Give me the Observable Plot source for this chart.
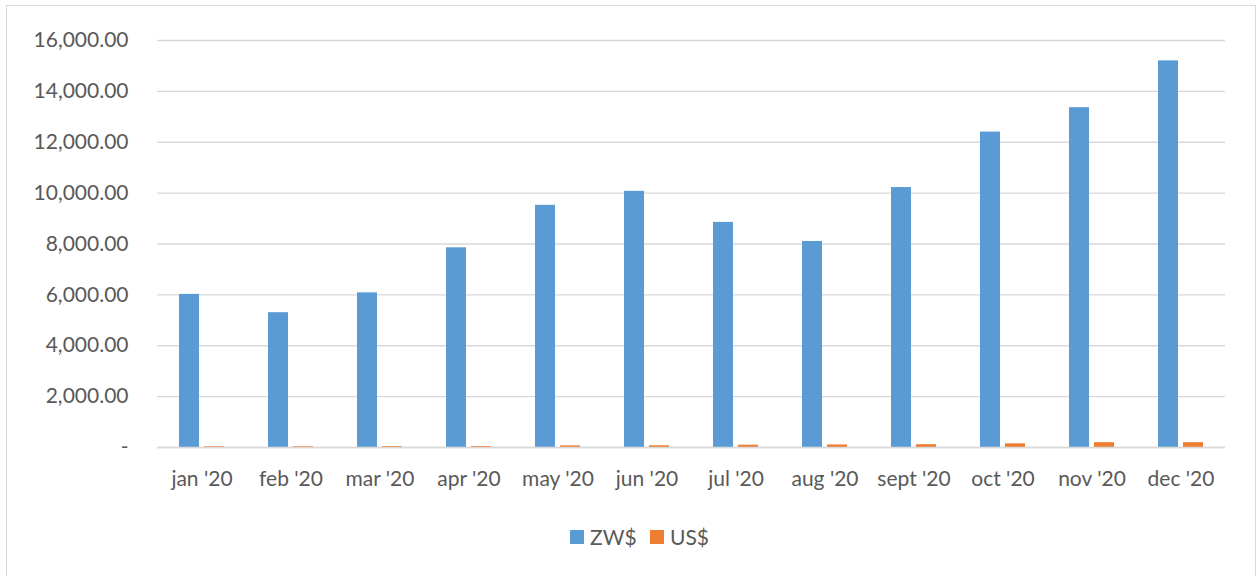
<!DOCTYPE html>
<html>
<head>
<meta charset="utf-8">
<script src="https://cdn.jsdelivr.net/npm/d3@7"></script>
<script src="https://cdn.jsdelivr.net/npm/@observablehq/plot@0.6"></script>
<style>
  html, body { margin: 0; padding: 0; background: #fff; width: 1260px; height: 576px; overflow: hidden; }
  #frame { position: absolute; left: 6px; top: 5px; width: 1250px; height: 620px; border: 1.5px solid #d9d9d9; box-sizing: border-box; }
  #chart { position: absolute; left: 0; top: 0; }
  #legend { position: absolute; top: 524px; left: 0; width: 1260px; font-family: Lato, "Open Sans", sans-serif; font-size: 21px; color: #595959; }
  .item { position: absolute; display: flex; align-items: center; }
  .sw { width: 14px; height: 14px; margin-right: 6px; }
</style>
</head>
<body>
<div id="frame"></div>
<div id="chart"></div>
<div id="legend"></div>
<script>
const months = ["jan '20", "feb '20", "mar '20", "apr '20", "may '20", "jun '20", "jul '20", "aug '20", "sept '20", "oct '20", "nov '20", "dec '20"];
const seriesNames = ["ZW$", "US$"];
const zwValues = [6020, 5300, 6080, 7850, 9520, 10070, 8850, 8100, 10220, 12400, 13360, 15200];
const usValues = [30, 32, 35, 40, 65, 68, 90, 100, 110, 145, 190, 190];
const yTicks = [0, 2000, 4000, 6000, 8000, 10000, 12000, 14000, 16000];
const colors = ["#5B9BD5", "#ED7D31"];

const zw = months.map((m, i) => ({month: m, value: zwValues[i]}));
const us = months.map((m, i) => ({month: m, value: usValues[i]}));
const fmt = d3.format(",.2f");

const chart = Plot.plot({
  width: 1260,
  height: 500,
  marginLeft: 157,
  marginRight: 35,
  marginTop: 40,
  marginBottom: 53,
  style: {fontFamily: "Lato, 'Open Sans', sans-serif", fontSize: "21px", color: "#595959", background: "transparent", overflow: "visible"},
  x: {type: "band", domain: months, padding: 0, tickSize: 0, tickPadding: 24, label: null},
  y: {domain: [0, 16000], ticks: yTicks, tickSize: 0, tickPadding: 29, label: null, tickFormat: d => d === 0 ? "-" : fmt(d)},
  marks: [
    Plot.ruleY(yTicks, {stroke: "#d9d9d9", strokeWidth: 1.3}),
    Plot.barY(zw, {x: "month", y: "value", fill: colors[0], insetLeft: 22, insetRight: 47}),
    Plot.barY(us, {x: "month", y: "value", fill: colors[1], insetLeft: 47, insetRight: 22}),
    Plot.ruleY([0], {stroke: "#d9d9d9", strokeWidth: 1.5})
  ]
});
document.getElementById("chart").appendChild(chart);

const legend = document.getElementById("legend");
const lefts = [570, 650];
seriesNames.forEach((s, i) => {
  const it = document.createElement("div");
  it.className = "item";
  it.style.left = lefts[i] + "px";
  const sw = document.createElement("div");
  sw.className = "sw";
  sw.style.background = colors[i];
  const t = document.createElement("span");
  t.textContent = s;
  it.appendChild(sw);
  it.appendChild(t);
  legend.appendChild(it);
});
</script>
</body>
</html>
